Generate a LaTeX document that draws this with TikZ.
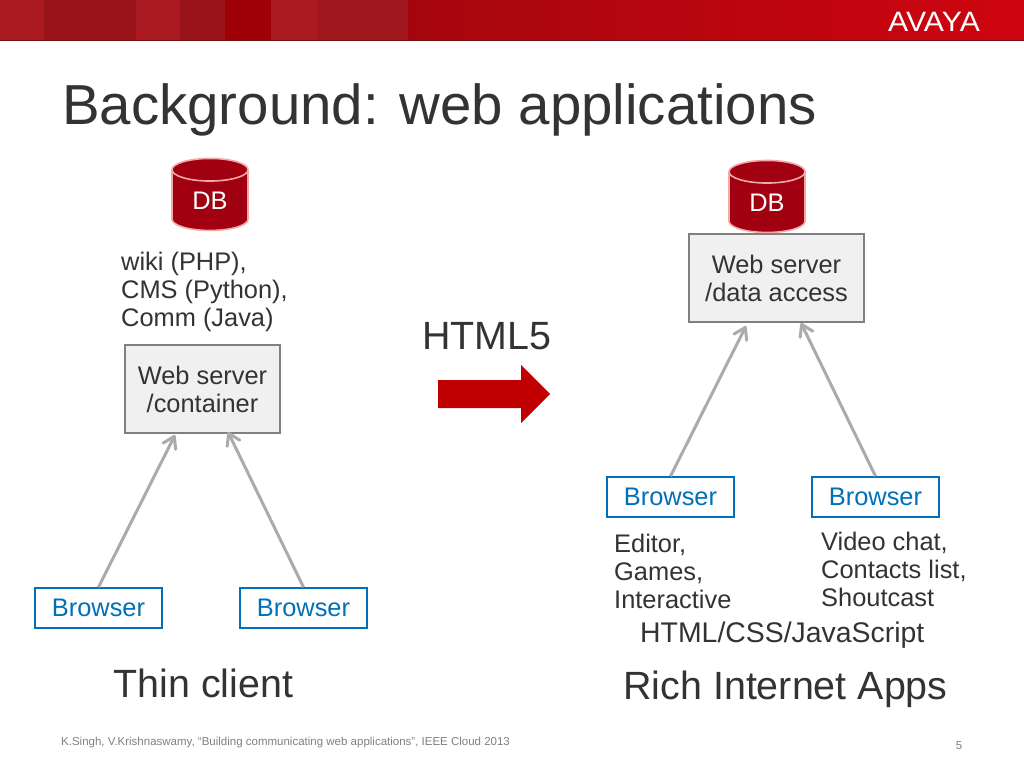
\documentclass[tikz,border=0pt]{standalone}
\usepackage{fontspec}
\setmainfont{Liberation Sans}
\usetikzlibrary{positioning, shapes.geometric, arrows.meta}

\definecolor{avayared}{HTML}{C00000}
\definecolor{bandleft}{HTML}{A5060E}
\definecolor{bandright}{HTML}{CE0510}
\definecolor{bandline}{HTML}{7A1015}
\definecolor{stripeA}{HTML}{AA1A20}
\definecolor{stripeB}{HTML}{98141A}
\definecolor{stripeC}{HTML}{A00008}
\definecolor{dbred}{HTML}{A00010}
\definecolor{dbrim}{HTML}{F6A8A8}
\definecolor{browserblue}{HTML}{0070B8}
\definecolor{linkgray}{HTML}{ABABAB}
\definecolor{textgray}{HTML}{333333}

\tikzset{
    body/.style={font=\fontsize{25.4}{28}\selectfont, text=textgray, inner sep=0pt},
    big/.style={font=\fontsize{39.4}{44}\selectfont, text=textgray, inner sep=0pt},
    dbcyl/.style={cylinder, shape border rotate=90, aspect=0.64, cylinder uses custom fill,
        cylinder body fill=dbred, cylinder end fill=dbred, draw=dbrim, line width=1.6pt,
        minimum width=76pt, minimum height=72pt, inner sep=0pt, text=white,
        font=\fontsize{25.4}{27.8}\selectfont},
    serverbox/.style={draw=gray, fill=gray!12, line width=1.6pt, align=center, body,
        minimum height=88pt},
    browserbox/.style={draw=browserblue, fill=white, line width=1.6pt, text=browserblue,
        font=\fontsize{25.4}{27.8}\selectfont, minimum width=127pt, minimum height=40pt, inner sep=0pt},
    link/.style={draw=linkgray, line width=3pt, -{Straight Barb[length=11pt, width=14pt, round]}}
}

\begin{document}
\begin{tikzpicture}[x=1pt, y=-1pt]
    \useasboundingbox (0,0) rectangle (1024,768);
    \fill[white] (0,0) rectangle (1024,768);

    % top band
    \shade[left color=bandleft, right color=bandright] (408,0) rectangle (1024,40);
    \fill[bandline] (0,40) rectangle (1024,41);
    \fill[stripeA] (0,0) rectangle (44,40);
    \fill[stripeB] (44,0) rectangle (136,40);
    \fill[stripeA] (136,0) rectangle (180,40);
    \fill[stripeB] (180,0) rectangle (225,40);
    \fill[stripeC] (225,0) rectangle (271,40);
    \fill[stripeA] (271,0) rectangle (317,40);
    \fill[stripeB!60!stripeA] (317,0) rectangle (408,40);
    \node[text=white, inner sep=0pt, font=\fontsize{28}{28}\selectfont, xscale=1.08] (logo) at (934,22) {AVAYA};

    \node[anchor=west, inner sep=0pt, text=textgray, font=\fontsize{56.4}{60}\selectfont] (title) at (62,110) {Background: web applications};

    % left side
    \node[dbcyl] (dbleft) at (210,200.5) {DB};
    \node[body, anchor=north west, align=left] (langs) at (121,252) {wiki (PHP),\\CMS (Python),\\Comm (Java)};
    \node[serverbox, minimum width=155pt] (container) at (202.5,389) {Web server\\/container};
    \node[browserbox] (browserA) at (98.5,608) {Browser};
    \node[browserbox] (browserB) at (303.5,608) {Browser};
    \coordinate (containerA) at (175,435);
    \coordinate (containerB) at (228,432);
    \draw[link] (browserA.north) -- (containerA);
    \draw[link] (browserB.north) -- (containerB);
    \node[big] (thin) at (203.5,683) {Thin client};

    % middle
    \node[big] (html5) at (487,336) {HTML5};
    \fill[avayared] (438,380) -- (521,380) -- (521,365) -- (550,394) -- (521,423) -- (521,408) -- (438,408) -- cycle;

    % right side
    \node[dbcyl] (dbright) at (767,202.5) {DB};
    \node[serverbox, minimum width=175pt] (access) at (776.5,278) {Web server\\/data access};
    \node[browserbox] (browserC) at (670.5,497) {Browser};
    \node[browserbox] (browserD) at (875.5,497) {Browser};
    \coordinate (accessC) at (746,326);
    \coordinate (accessD) at (801,323);
    \draw[link] (browserC.north) -- (accessC);
    \draw[link] (browserD.north) -- (accessD);
    \node[body, anchor=north west, align=left] (editor) at (614,534) {Editor,\\Games,\\Interactive};
    \node[body, anchor=north west, align=left] (video) at (821,532) {Video chat,\\Contacts list,\\Shoutcast};
    \node[body, anchor=west, font=\fontsize{28.4}{30}\selectfont] (stack) at (640,635) {HTML/CSS/JavaScript};
    \node[big] (rich) at (785.5,689) {Rich Internet Apps};

    % footer
    \node[anchor=west, inner sep=0pt, text=gray, font=\fontsize{11.5}{13}\selectfont] (cite) at (61,743) {K.Singh, V.Krishnaswamy, “Building communicating web applications”, IEEE Cloud 2013};
    \node[inner sep=0pt, text=gray, font=\fontsize{11.5}{13}\selectfont] (page) at (959,746) {5};
\end{tikzpicture}
\end{document}
